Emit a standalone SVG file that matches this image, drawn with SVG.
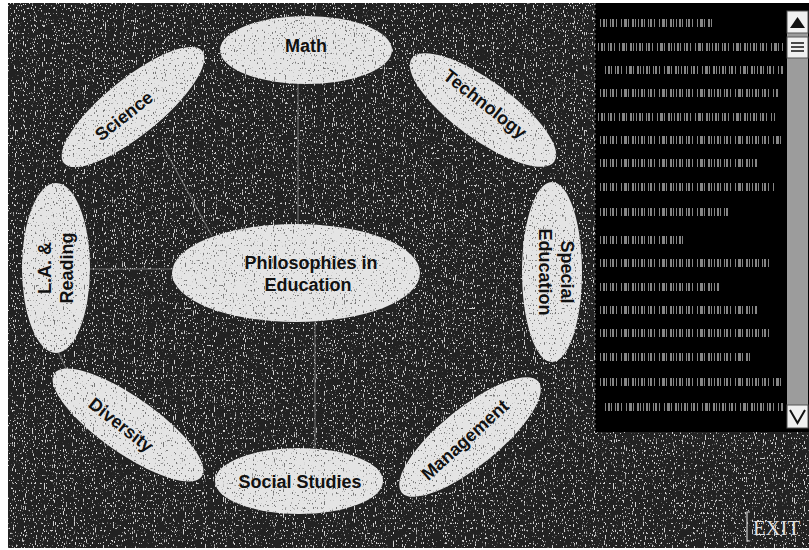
<svg xmlns="http://www.w3.org/2000/svg" width="809" height="550" viewBox="0 0 809 550">
<defs>
<filter id="specksLight" x="0" y="0" width="100%" height="100%" filterUnits="userSpaceOnUse">
<feTurbulence type="fractalNoise" baseFrequency="0.9 0.4" numOctaves="1" seed="3" result="n"/>
<feColorMatrix in="n" type="matrix" values="0 0 0 0 1  0 0 0 0 1  0 0 0 0 1  14 0 0 0 -8.6"/>
</filter>
<filter id="specksDark" x="0" y="0" width="100%" height="100%" filterUnits="userSpaceOnUse">
<feTurbulence type="fractalNoise" baseFrequency="0.9 0.4" numOctaves="1" seed="11" result="n"/>
<feColorMatrix in="n" type="matrix" values="0 0 0 0 0.1  0 0 0 0 0.1  0 0 0 0 0.1  14 0 0 0 -8.9"/>
</filter>
<clipPath id="nodeClip">
<ellipse cx="296" cy="273" rx="124" ry="49"/>
<ellipse cx="306" cy="50" rx="86" ry="34"/>
<ellipse cx="483" cy="110" rx="88" ry="29" transform="rotate(36 483 110)"/>
<ellipse cx="552" cy="272" rx="30" ry="90"/>
<ellipse cx="470" cy="437" rx="88" ry="29" transform="rotate(-39 470 437)"/>
<ellipse cx="299" cy="481" rx="84" ry="33"/>
<ellipse cx="128" cy="425" rx="90" ry="28" transform="rotate(35 128 425)"/>
<ellipse cx="56" cy="268" rx="34" ry="85"/>
<ellipse cx="133" cy="107" rx="89" ry="28" transform="rotate(-39 133 107)"/>
</clipPath>
</defs>
<style>
.bg{fill:#222}
.node ellipse{fill:#e4e4e4}
.lbl{font-family:"Liberation Sans",Arial,sans-serif;font-weight:bold;font-size:18px;fill:#111;text-anchor:middle;dominant-baseline:central}
.conn line{stroke:#909090;stroke-width:1.2;opacity:0.7}
.tl{stroke:#858585;stroke-width:8;stroke-dasharray:1 2 2 1 1 3 1 1 2 2 1 4 1 2 3 1 1 3 2 1 1 2}
.sb{fill:#f0f0f0;stroke:#555;stroke-width:1}
</style>
<rect x="0" y="0" width="809" height="550" fill="#ffffff"/>
<rect class="bg" x="8" y="3" width="801" height="545"/>
<rect x="8" y="3" width="801" height="545" filter="url(#specksLight)" opacity="0.8"/>

<g id="connectors" class="conn">
<line x1="298" y1="83" x2="298" y2="225"/>
<line x1="165" y1="150" x2="212" y2="236"/>
<line x1="90" y1="269" x2="172" y2="269"/>
<line x1="315" y1="322" x2="315" y2="448"/>
<line x1="58" y1="352" x2="68" y2="372"/>
</g>

<g id="center" class="node">
<ellipse cx="296" cy="273" rx="124" ry="49"/>
</g>
<g id="math" class="node">
<ellipse cx="306" cy="50" rx="86" ry="34"/>
</g>
<g id="technology" class="node">
<ellipse cx="483" cy="110" rx="88" ry="29" transform="rotate(36 483 110)"/>
</g>
<g id="special-education" class="node">
<ellipse cx="552" cy="272" rx="30" ry="90"/>
</g>
<g id="management" class="node">
<ellipse cx="470" cy="437" rx="88" ry="29" transform="rotate(-39 470 437)"/>
</g>
<g id="social-studies" class="node">
<ellipse cx="299" cy="481" rx="84" ry="33"/>
</g>
<g id="diversity" class="node">
<ellipse cx="128" cy="425" rx="90" ry="28" transform="rotate(35 128 425)"/>
</g>
<g id="la-reading" class="node">
<ellipse cx="56" cy="268" rx="34" ry="85"/>
</g>
<g id="science" class="node">
<ellipse cx="133" cy="107" rx="89" ry="28" transform="rotate(-39 133 107)"/>
</g>
<rect x="8" y="3" width="590" height="545" filter="url(#specksDark)" clip-path="url(#nodeClip)" opacity="0.8"/>

<g id="labels">
<text class="lbl" x="311" y="263">Philosophies in</text>
<text class="lbl" x="308" y="285">Education</text>
<text class="lbl" x="306" y="46">Math</text>
<text class="lbl" x="485" y="104" transform="rotate(38 485 104)">Technology</text>
<text class="lbl" transform="translate(556 272) rotate(90)"><tspan x="0" y="-11">Special</tspan><tspan x="0" y="11">Education</tspan></text>
<text class="lbl" x="465" y="440" transform="rotate(-42 465 440)">Management</text>
<text class="lbl" x="300" y="482">Social Studies</text>
<text class="lbl" x="121" y="425" transform="rotate(38 121 425)">Diversity</text>
<text class="lbl" transform="translate(56 268) rotate(-90)"><tspan x="0" y="-11">L.A. &amp;</tspan><tspan x="0" y="11">Reading</tspan></text>
<text class="lbl" x="124" y="116" transform="rotate(-38 124 116)">Science</text>
</g>

<g id="text-panel">
<rect x="595" y="3" width="214" height="429" fill="#000"/>
<line x1="595" y1="3" x2="595" y2="432" stroke="#777" stroke-width="1" stroke-dasharray="2 3"/>
<line class="tl" x1="600" y1="23" x2="713" y2="23"/>
<line class="tl" x1="598" y1="47" x2="783" y2="47"/>
<line class="tl" x1="605" y1="70" x2="783" y2="70"/>
<line class="tl" x1="600" y1="93" x2="778" y2="93"/>
<line class="tl" x1="598" y1="117" x2="775" y2="117"/>
<line class="tl" x1="600" y1="140" x2="783" y2="140"/>
<line class="tl" x1="600" y1="163" x2="757" y2="163"/>
<line class="tl" x1="600" y1="187" x2="775" y2="187"/>
<line class="tl" x1="600" y1="212" x2="730" y2="212"/>
<line class="tl" x1="600" y1="240" x2="685" y2="240"/>
<line class="tl" x1="600" y1="263" x2="773" y2="263"/>
<line class="tl" x1="600" y1="287" x2="720" y2="287"/>
<line class="tl" x1="600" y1="310" x2="758" y2="310"/>
<line class="tl" x1="600" y1="333" x2="773" y2="333"/>
<line class="tl" x1="600" y1="357" x2="752" y2="357"/>
<line class="tl" x1="600" y1="382" x2="783" y2="382"/>
<line class="tl" x1="605" y1="407" x2="783" y2="407"/>
<rect x="787" y="33" width="21" height="372" fill="#9c9c9c"/>
<rect class="sb" x="787" y="11" width="21" height="22"/>
<path d="M790 28 L797.5 17 L805 28 Z" fill="#111"/>
<rect class="sb" x="787" y="37" width="21" height="21"/>
<path d="M791 43 H804 M791 47 H804 M791 51 H804" stroke="#111" stroke-width="1.5"/>
<rect class="sb" x="787" y="405" width="21" height="23"/>
<path d="M790 410 L797.5 423 L805 410" fill="none" stroke="#111" stroke-width="2"/>
</g>

<g id="exit">
<path d="M750 512 H747 V541 H750" fill="none" stroke="#cfcfcf" stroke-width="1.2"/>
<text x="753" y="535" font-family="'Liberation Serif','Times New Roman',serif" font-size="22" fill="#e0e0e0" textLength="47" lengthAdjust="spacingAndGlyphs">EXIT</text>
</g>
</svg>
